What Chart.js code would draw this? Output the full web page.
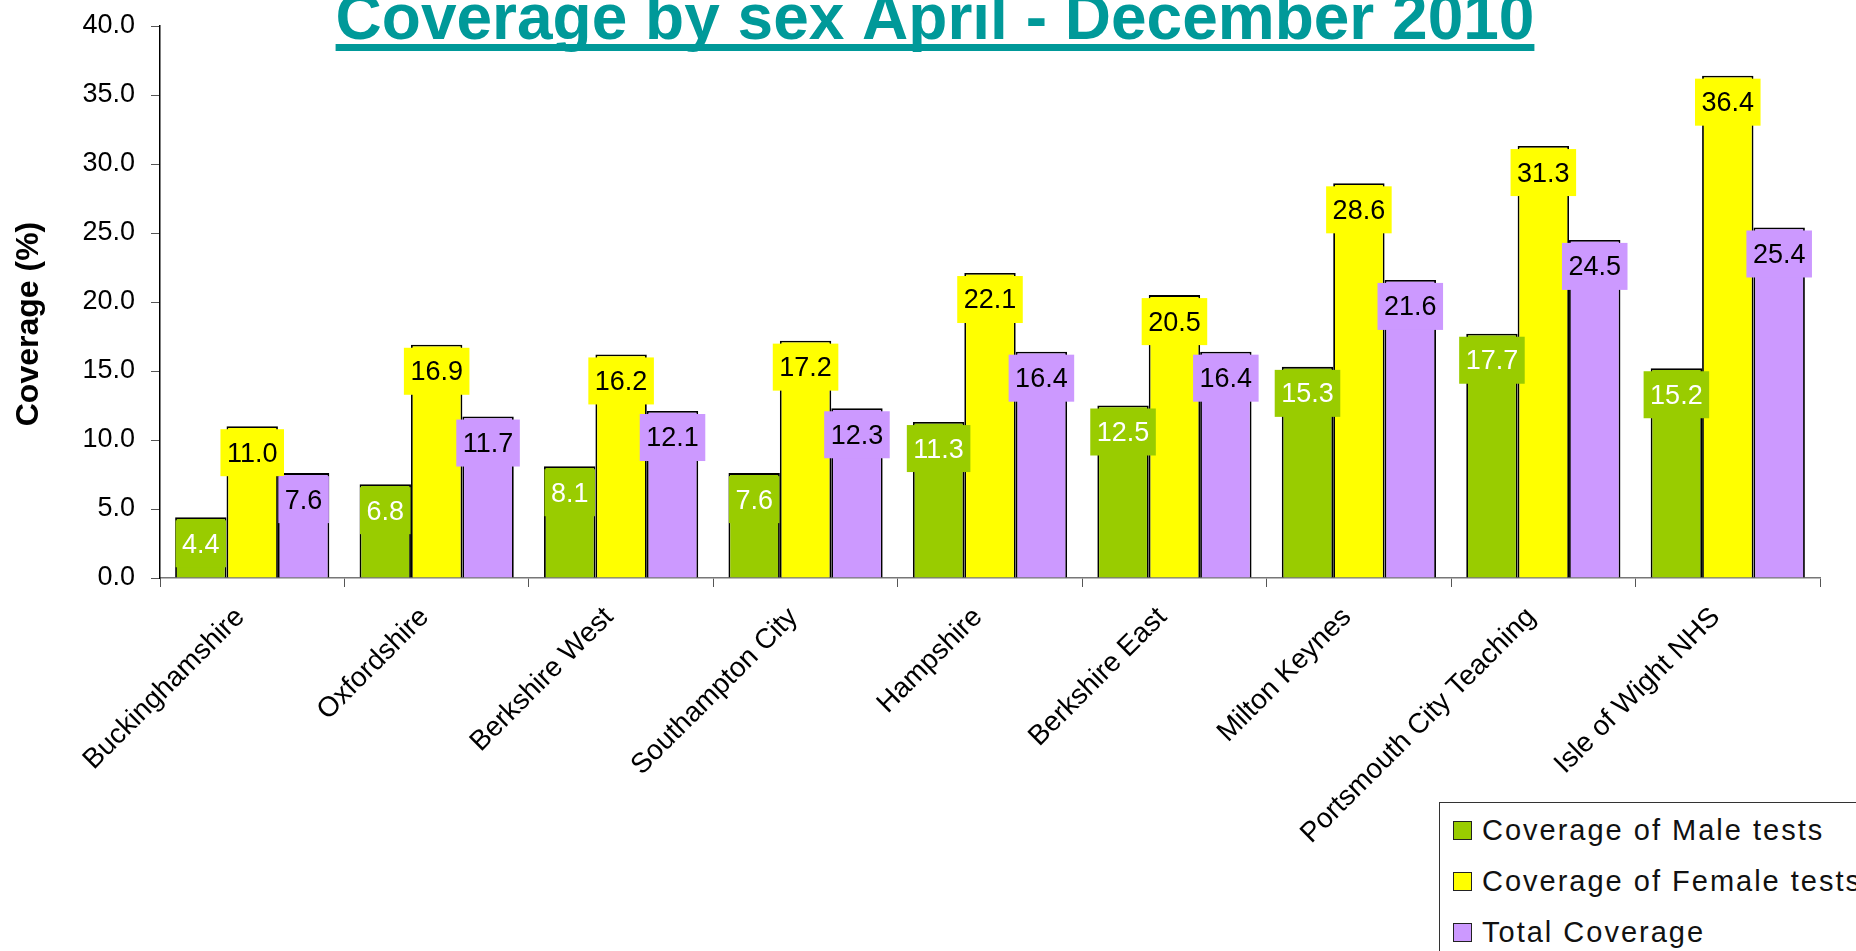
<!DOCTYPE html>
<html>
<head>
<meta charset="utf-8">
<title>Coverage by sex April - December 2010</title>
<script src="https://cdn.jsdelivr.net/npm/chart.js@4"></script>
<style>
  html, body { margin: 0; padding: 0; background: #fff; overflow: hidden; }
  #wrap { position: relative; width: 1856px; height: 951px; }
  #legend {
    position: absolute; left: 1439px; top: 802px; width: 520px; height: 220px;
    border: 1.5px solid #333; background: #fff; padding-top: 2px;
    font-family: "Liberation Sans", Arial, sans-serif; font-size: 29px;
    letter-spacing: 2px; color: #111;
  }
  .item { height: 51px; display: flex; align-items: center; white-space: nowrap; }
  .swatch { width: 17px; height: 17px; border: 1.5px solid #222; margin-left: 13px; margin-right: 10px; }
</style>
</head>
<body>
<div id="wrap">
  <canvas id="chart" width="1856" height="951"></canvas>
  <div id="legend"></div>
</div>
<script>
"use strict";
const titleText = "Coverage by sex April - December 2010";
const axisTitle = "Coverage (%)";

const areas = [
  "Buckinghamshire",
  "Oxfordshire",
  "Berkshire West",
  "Southampton City",
  "Hampshire",
  "Berkshire East",
  "Milton Keynes",
  "Portsmouth City Teaching",
  "Isle of Wight NHS",
];
const maleCoverage = [4.4, 6.8, 8.1, 7.6, 11.3, 12.5, 15.3, 17.7, 15.2];
const femaleCoverage = [11.0, 16.9, 16.2, 17.2, 22.1, 20.5, 28.6, 31.3, 36.4];
const totalCoverage = [7.6, 11.7, 12.1, 12.3, 16.4, 16.4, 21.6, 24.5, 25.4];
const yTicks = [0, 5, 10, 15, 20, 25, 30, 35, 40];

const font = "'Liberation Sans', Arial, sans-serif";
const labelColors = ["#ffffff", "#000000", "#000000"];

// value boxes, drawn after all bars so they sit on top like in Excel
const barLabels = {
  id: "barLabels",
  afterDatasetsDraw(chart) {
    const ctx = chart.ctx;
    ctx.save();
    ctx.font = "27px " + font;
    ctx.textAlign = "center";
    ctx.textBaseline = "middle";
    chart.data.datasets.forEach((ds, i) => {
      chart.getDatasetMeta(i).data.forEach((bar, j) => {
        const txt = ds.data[j].toFixed(1);
        const w = ctx.measureText(txt).width + 13;
        const top = bar.y + 3;
        ctx.fillStyle = ds.backgroundColor;
        ctx.fillRect(bar.x - w / 2, top, w, 47);
        ctx.fillStyle = labelColors[i];
        ctx.fillText(txt, bar.x, top + 25);
      });
    });
    ctx.restore();
  },
};

const titles = {
  id: "titles",
  afterDraw(chart) {
    const ctx = chart.ctx;
    ctx.save();
    ctx.font = "bold 64px " + font;
    ctx.fillStyle = "#009999";
    ctx.textAlign = "center";
    ctx.textBaseline = "alphabetic";
    const w = ctx.measureText(titleText).width;
    ctx.fillText(titleText, 935, 39);
    ctx.fillRect(935 - w / 2, 44, w, 7);

    ctx.translate(29, 324);
    ctx.rotate(-Math.PI / 2);
    ctx.font = "bold 32px " + font;
    ctx.fillStyle = "#000";
    ctx.textBaseline = "middle";
    ctx.fillText(axisTitle, 0, 0);
    ctx.restore();
  },
};

const chartData = {
  labels: areas,
  datasets: [
    { label: "Coverage of Male tests", data: maleCoverage, backgroundColor: "#99cc00" },
    { label: "Coverage of Female tests", data: femaleCoverage, backgroundColor: "#ffff00" },
    { label: "Total Coverage", data: totalCoverage, backgroundColor: "#cc99ff" },
  ].map((d) => ({
    ...d,
    borderColor: "#000",
    borderWidth: 1.8,
    categoryPercentage: 0.836,
    barPercentage: 1.0,
  })),
};

const config = {
  type: "bar",
  data: chartData,
  options: {
    responsive: false,
    animation: false,
    layout: { padding: { left: 0, top: 26, right: 36, bottom: 0 } },
    plugins: {
      legend: { display: false },
      tooltip: { enabled: false },
      title: { display: false },
    },
    scales: {
      x: {
        grid: {
          display: true,
          drawOnChartArea: false,
          drawTicks: true,
          tickLength: 9,
          tickColor: "#555",
        },
        border: { color: "#777", width: 1.5 },
        ticks: {
          color: "#000",
          font: { family: font, size: 28 },
          maxRotation: 45,
          minRotation: 45,
          padding: 14,
          labelOffset: -12,
          autoSkip: false,
        },
        afterFit(scale) {
          scale.height = 373;
        },
      },
      y: {
        min: 0,
        max: 40,
        afterBuildTicks(scale) {
          scale.ticks = yTicks.map((v) => ({ value: v }));
        },
        grid: {
          display: true,
          drawOnChartArea: false,
          drawTicks: true,
          tickLength: 9,
          tickColor: "#555",
        },
        border: { color: "#000", width: 1.5 },
        ticks: {
          color: "#000",
          font: { family: font, size: 27 },
          padding: 16,
          callback: (v) => Number(v).toFixed(1),
        },
        afterFit(scale) {
          scale.width = 160;
          // the tick padding would otherwise push the plot top down
          scale.paddingTop = 0;
          scale.paddingBottom = 0;
        },
      },
    },
  },
  plugins: [barLabels, titles],
};

const coverageChart = new Chart(document.getElementById("chart"), config);

// legend built from the chart's own datasets
const legend = document.getElementById("legend");
coverageChart.data.datasets.forEach((ds) => {
  const row = document.createElement("div");
  row.className = "item";
  const sw = document.createElement("span");
  sw.className = "swatch";
  sw.style.background = ds.backgroundColor;
  const txt = document.createElement("span");
  txt.textContent = ds.label;
  row.appendChild(sw);
  row.appendChild(txt);
  legend.appendChild(row);
});
</script>
</body>
</html>
